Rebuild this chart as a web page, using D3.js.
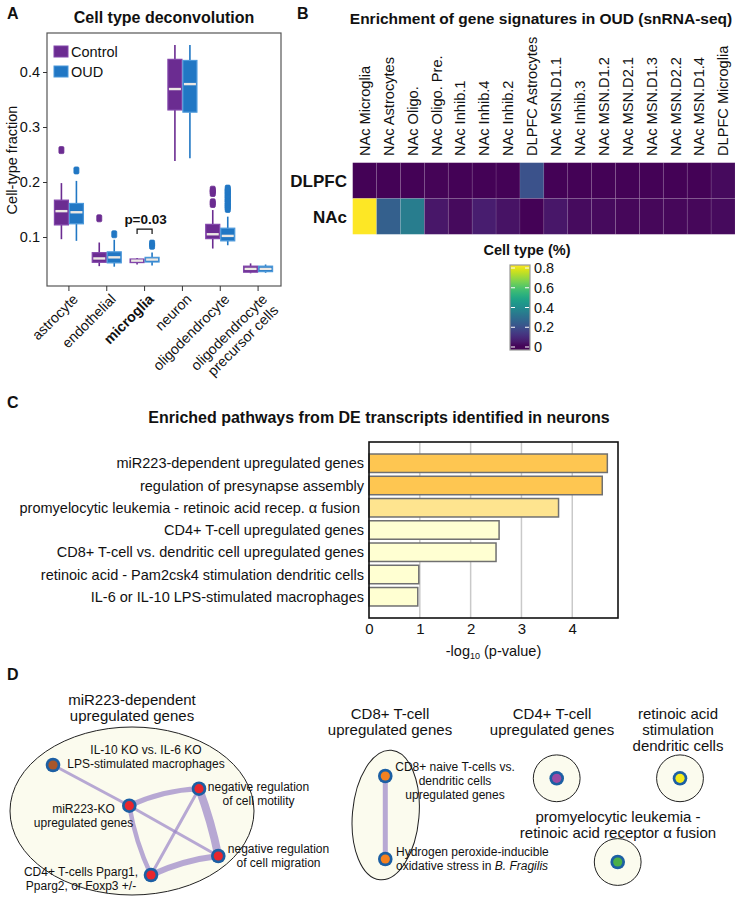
<!DOCTYPE html>
<html><head><meta charset="utf-8">
<script src="https://cdn.jsdelivr.net/npm/d3@7"></script>
<style>body{margin:0;background:#fff} svg{display:block} text{font-family:"Liberation Sans",Arial,Helvetica,sans-serif;fill:#111}</style>
</head><body><svg id="c" width="738" height="900"></svg>
<script>
// ---------------- Panel A data ----------------
const cellTypes = ["astrocyte","endothelial","microglia","neuron","oligodendrocyte","oligodendrocyte precursor cells"];
const groups = ["Control","OUD"];
const yTicksA = [0.1,0.2,0.3,0.4];
// box statistics: lower whisker, q1, median, q3, upper whisker
const ctrlLo  = [0.096,0.047,0.050,0.238,0.079,0.034];
const ctrlQ1  = [0.122,0.054,0.0535,0.331,0.097,0.036];
const ctrlMed = [0.147,0.061,0.057,0.369,0.105,0.042];
const ctrlQ3  = [0.167,0.0715,0.060,0.423,0.123,0.047];
const ctrlHi  = [0.198,0.090,0.062,0.449,0.149,0.052];
const ctrlOut = [[0.258],[0.134],[],[],[0.160,0.163,0.180,0.183,0.186],[]];
const oudLo  = [0.093,0.046,0.048,0.243,0.085,0.035];
const oudQ1  = [0.124,0.053,0.0545,0.327,0.093,0.037];
const oudMed = [0.145,0.063,0.059,0.378,0.102,0.042];
const oudQ3  = [0.161,0.073,0.063,0.421,0.116,0.047];
const oudHi  = [0.202,0.095,0.072,0.449,0.137,0.050];
const oudOut = [[0.221],[0.105],[0.084,0.088],[],[0.151,0.154,0.157,0.161,0.164,0.168,0.171,0.175,0.178,0.182,0.185,0.188],[]];
const pLabel = "p=0.03";

// ---------------- Panel B data ----------------
const hmColumns = ["NAc Microglia","NAc Astrocytes","NAc Oligo.","NAc Oligo. Pre.","NAc Inhib.1","NAc Inhib.4","NAc Inhib.2","DLPFC Astrocytes","NAc MSN.D1.1","NAc Inhib.3","NAc MSN.D1.2","NAc MSN.D2.1","NAc MSN.D1.3","NAc MSN.D2.2","NAc MSN.D1.4","DLPFC Microglia"];
const hmRows = ["DLPFC","NAc"];
const hmDLPFC = [0.005,0.005,0.005,0.008,0.005,0.005,0.005,0.21,0.006,0.006,0.006,0.005,0.005,0.005,0.006,0.02];
const hmNAc   = [0.83,0.25,0.35,0.05,0.02,0.065,0.04,0.005,0.05,0.025,0.02,0.015,0.015,0.015,0.015,0.02];
const cbTicks = [0,0.2,0.4,0.6,0.8];

// ---------------- Panel C data ----------------
const pathways = ["miR223-dependent upregulated genes","regulation of presynapse assembly","promyelocytic leukemia - retinoic acid recep. \u03b1 fusion ","CD4+ T-cell upregulated genes","CD8+ T-cell vs. dendritic cell upregulated genes","retinoic acid - Pam2csk4 stimulation dendritic cells","IL-6 or IL-10 LPS-stimulated macrophages"];
const negLog10P = [4.69,4.59,3.73,2.56,2.50,0.98,0.96];
const xTicksC = [0,1,2,3,4];

// ---------------- Panel D data ----------------
const clusterTitles = [["miR223-dependent","upregulated genes"],["CD8+ T-cell","upregulated genes"],["CD4+ T-cell","upregulated genes"],["retinoic acid","stimulation","dendritic cells"],["promyelocytic leukemia -","retinoic acid receptor \u03b1 fusion"]];
// layout units (panel-local)
const clusterTitleX = [132,390,552,678,618];
const clusterTitleY = [65,79,79,79,182];
const clusterCX = [132,385.7,556.7,680,617.7];
const clusterCY = [171,175,138.3,138.3,222];
const clusterRX = [122,33.3,23.4,23.4,23.4];
const clusterRY = [84,65,23.4,23.4,23.4];
const clusterTilt = [0,5,0,0,0];
const nodeIds = ["il10","mir","motility","migration","cd4t","cd8a","cd8b","cd4","ra","pml"];
const nodeColors = ["#a8562b","#e8262d","#e8262d","#e8262d","#e8262d","#f6811f","#f6811f","#9b4aa3","#f3ea1c","#4caf48"];
const nodeX = [53,129.3,199,218.3,151,385.3,385.3,556.7,680,617.7];
const nodeY = [125,165.7,148.7,216,235,136,219,138.3,138.3,222];
const nodeLabels = [["IL-10 KO vs. IL-6 KO","LPS-stimulated macrophages"],["miR223-KO","upregulated genes"],["negative regulation","of cell motility"],["negative regulation","of cell migration"],["CD4+ T-cells Pparg1,","Pparg2, or Foxp3 +/-"],["CD8+ naive T-cells vs.","dendritic cells","upregulated genes"],["Hydrogen peroxide-inducible","oxidative stress in |B. Fragilis"],[],[],[]];
const labelX = [146,83.5,258.5,278.5,81,455,396,0,0,0];
const labelY = [114,173,151,213,236,131,216,0,0,0];
const labelAnchor = ["middle","middle","middle","middle","middle","middle","start","middle","middle","middle"];
const edgeSource = ["il10","mir","mir","mir","motility","motility","migration","cd8a"];
const edgeTarget = ["mir","motility","migration","cd4t","migration","cd4t","cd4t","cd8b"];
const edgeWidth  = [3,5,3,4.5,8,3,6,5];
const edgeBend   = [0,-0.1,0,0.07,-0.04,0,0.08,0];

// =====================================================
const svg = d3.select("#c");
const F = "Liberation Sans, Arial, sans-serif";

function label(x,y,t,opt={}){
  return svg.append("text").attr("x",x).attr("y",y).text(t)
    .attr("font-size",opt.size||14).attr("font-weight",opt.bold?"bold":"normal")
    .attr("text-anchor",opt.anchor||"start");
}

// ---------------- Panel A ----------------
label(7,19,"A",{size:16,bold:true});
label(164,23,"Cell type deconvolution",{size:16,bold:true,anchor:"middle"});
const xA = d3.scaleBand().domain(cellTypes).range([50,277]);
const yA = d3.scaleLinear().domain([0.1,0.4]).range([237,72]);
const gA = svg.append("g");
gA.append("rect").attr("x",47).attr("y",33).attr("width",234).attr("height",253)
  .attr("fill","none").attr("stroke","#555").attr("stroke-width",1.2);
const axL = gA.append("g").attr("transform","translate(47,0)")
  .call(d3.axisLeft(yA).tickValues(yTicksA).tickFormat(d3.format(".1f")).tickSize(4).tickPadding(3));
axL.select(".domain").remove();
axL.selectAll("text").attr("font-size",14.5).attr("font-family",F).attr("fill","#222");
axL.selectAll("line").attr("stroke","#333");
const axB = gA.append("g").attr("transform","translate(0,286)")
  .call(d3.axisBottom(xA).tickSize(5).tickFormat(""));
axB.select(".domain").remove();
axB.selectAll("line").attr("stroke","#333");
gA.append("text").attr("transform","translate(17,160) rotate(-90)").attr("text-anchor","middle")
  .attr("font-size",14.5).text("Cell-type fraction");

const boxCols = {Control:{fill:"#6b2c91",stroke:"#8246ab",wh:"#6b2c91"},OUD:{fill:"#2177c4",stroke:"#4b98da",wh:"#2177c4"}};
const groupStats = {
  Control:{lo:ctrlLo,q1:ctrlQ1,med:ctrlMed,q3:ctrlQ3,hi:ctrlHi,out:ctrlOut},
  OUD:{lo:oudLo,q1:oudQ1,med:oudMed,q3:oudQ3,hi:oudHi,out:oudOut}
};
const bw = 15;
cellTypes.forEach((c,i)=>{
  groups.forEach((g,gi)=>{
    const s = groupStats[g], col = boxCols[g];
    const cx = xA(c)+xA.bandwidth()/2 + (gi===0?-bw/2:bw/2);
    gA.append("line").attr("x1",cx).attr("x2",cx).attr("y1",yA(s.hi[i])).attr("y2",yA(s.q3[i]))
      .attr("stroke",col.wh).attr("stroke-width",1.6);
    gA.append("line").attr("x1",cx).attr("x2",cx).attr("y1",yA(s.q1[i])).attr("y2",yA(s.lo[i]))
      .attr("stroke",col.wh).attr("stroke-width",1.6);
    gA.append("rect").attr("x",cx-bw/2+0.5).attr("width",bw-1)
      .attr("y",yA(s.q3[i])).attr("height",Math.max(1,yA(s.q1[i])-yA(s.q3[i])))
      .attr("fill",col.fill).attr("stroke",col.stroke).attr("stroke-width",1.2);
    gA.append("line").attr("x1",cx-bw/2+1.5).attr("x2",cx+bw/2-1.5).attr("y1",yA(s.med[i])).attr("y2",yA(s.med[i]))
      .attr("stroke","#ece8e4").attr("stroke-width",2.4);
    s.out[i].forEach(v=>{
      gA.append("rect").attr("x",cx-2.5).attr("y",yA(v)-3.5).attr("width",5).attr("height",7).attr("rx",1.2)
        .attr("fill",col.fill).attr("stroke",col.fill).attr("stroke-width",0.8);
    });
  });
});
// legend
groups.forEach((g,gi)=>{
  const col = boxCols[g];
  gA.append("rect").attr("x",54).attr("y",46+gi*20).attr("width",14).attr("height",11)
    .attr("fill",col.fill).attr("stroke",col.stroke);
  gA.append("text").attr("x",71).attr("y",57+gi*20).attr("font-size",14.5).text(g);
});
// p-value bracket (microglia)
{
  const mc = xA("microglia")+xA.bandwidth()/2;
  const top = yA(0.1145), bot = yA(0.1055);
  gA.append("path").attr("d",`M${mc-bw/2},${bot}V${top}H${mc+bw/2}V${bot}`)
    .attr("fill","none").attr("stroke","#111").attr("stroke-width",1.2);
  gA.append("text").attr("x",mc+1).attr("y",top-5).attr("text-anchor","middle")
    .attr("font-size",13.5).attr("font-weight","bold").text(pLabel);
}
// x labels
cellTypes.forEach(c=>{
  const cx = xA(c)+xA.bandwidth()/2;
  const t = gA.append("text").attr("transform",`translate(${cx+3},${293}) rotate(-45)`)
    .attr("text-anchor","end").attr("font-size",14.3)
    .attr("font-weight",c==="microglia"?"bold":"normal");
  if(c==="oligodendrocyte precursor cells"){
    t.append("tspan").attr("x",0).attr("dy","0.7em").text("oligodendrocyte");
    t.append("tspan").attr("x",0).attr("dy","1.1em").text("precursor cells");
  } else {
    t.append("tspan").attr("x",0).attr("dy","0.7em").text(c);
  }
});

// ---------------- Panel B ----------------
label(297,19,"B",{size:16,bold:true});
label(541,24,"Enrichment of gene signatures in OUD (snRNA-seq)",{size:15.5,bold:true,anchor:"middle"});
const xB = d3.scaleBand().domain(hmColumns).range([352.7,735]);
const yB = d3.scaleBand().domain(hmRows).range([162.7,234.3]);
const cB = d3.scaleSequential(d3.interpolateViridis).domain([0,0.83]).clamp(true);
const hmVals = {DLPFC:hmDLPFC, NAc:hmNAc};
const gB = svg.append("g");
hmRows.forEach(r=>{
  hmColumns.forEach((c,ci)=>{
    gB.append("rect").attr("x",xB(c)).attr("y",yB(r)).attr("width",xB.bandwidth()).attr("height",yB.bandwidth())
      .attr("fill",cB(hmVals[r][ci])).attr("stroke","rgba(255,255,255,0.10)").attr("stroke-width",0.8);
  });
  gB.append("text").attr("x",347).attr("y",yB(r)+yB.bandwidth()/2).attr("dy","0.36em")
    .attr("text-anchor","end").attr("font-size",17).attr("font-weight","bold").text(r);
});
hmColumns.forEach(c=>{
  gB.append("text").attr("transform",`translate(${xB(c)+xB.bandwidth()/2},156) rotate(-90)`)
    .attr("dy","0.36em").attr("font-size",14.6).text(c);
});
// colorbar
{
  const cbY = d3.scaleLinear().domain([0,0.8]).range([347,268]);
  const y0 = 350, y1 = 265;
  const defs = svg.append("defs");
  const lg = defs.append("linearGradient").attr("id","vir").attr("x1",0).attr("x2",0).attr("y1",1).attr("y2",0);
  d3.range(0,1.0001,0.05).forEach(t=>{
    const v = cbY.invert(y0 + (y1-y0)*t);
    lg.append("stop").attr("offset",t).attr("stop-color",cB(v));
  });
  gB.append("rect").attr("x",510).attr("y",y1).attr("width",20).attr("height",y0-y1)
    .attr("fill","url(#vir)").attr("stroke","#999").attr("stroke-width",1.2);
  cbTicks.forEach(v=>{
    gB.append("line").attr("x1",511).attr("x2",515).attr("y1",cbY(v)).attr("y2",cbY(v)).attr("stroke","#fff").attr("stroke-width",1);
    gB.append("line").attr("x1",525).attr("x2",529).attr("y1",cbY(v)).attr("y2",cbY(v)).attr("stroke","#fff").attr("stroke-width",1);
    gB.append("text").attr("x",534).attr("y",cbY(v)).attr("dy","0.36em").attr("font-size",14.5).text(v===0?"0":d3.format(".1f")(v));
  });
  gB.append("text").attr("x",527).attr("y",255).attr("text-anchor","middle").attr("font-size",14.5)
    .attr("font-weight","bold").text("Cell type (%)");
}

// ---------------- Panel C ----------------
label(7,408,"C",{size:16,bold:true});
label(379,423,"Enriched pathways from DE transcripts identified in neurons",{size:16,bold:true,anchor:"middle"});
const xC = d3.scaleLinear().domain([0,4.9]).range([369,618]);
const yC = d3.scaleBand().domain(pathways).range([442,618]).paddingInner(0.17).paddingOuter(0.54);
const colC = d3.scaleThreshold().domain([3,4]).range(["#ffffd2","#fee48f","#fec651"]);
const gC = svg.append("g");
xTicksC.filter(v=>v>0).forEach(v=>{
  gC.append("line").attr("x1",xC(v)).attr("x2",xC(v)).attr("y1",442).attr("y2",618)
    .attr("stroke","#c9c9c9").attr("stroke-width",1.5);
});
pathways.forEach((p,i)=>{
  gC.append("rect").attr("x",xC(0)).attr("y",yC(p)).attr("width",xC(negLog10P[i])-xC(0)).attr("height",yC.bandwidth())
    .attr("fill",colC(negLog10P[i])).attr("stroke","#707070").attr("stroke-width",1.5);
  gC.append("text").attr("x",364).attr("y",yC(p)+yC.bandwidth()/2).attr("dy","0.36em")
    .attr("text-anchor","end").attr("font-size",14.5).attr("xml:space","preserve").text(p);
});
gC.append("rect").attr("x",369).attr("y",442).attr("width",249).attr("height",176)
  .attr("fill","none").attr("stroke","#111").attr("stroke-width",1.6);
const axC = gC.append("g").attr("transform","translate(0,618)")
  .call(d3.axisBottom(xC).tickValues(xTicksC).tickFormat(d3.format("d")).tickSize(0).tickPadding(5));
axC.select(".domain").remove();
axC.selectAll("text").attr("font-size",15).attr("font-family",F).attr("fill","#111");
{
  const t = gC.append("text").attr("x",xC(2.45)).attr("y",656).attr("text-anchor","middle").attr("font-size",14.5);
  t.append("tspan").text("-log");
  t.append("tspan").attr("font-size",9).attr("dy",3).text("10");
  t.append("tspan").attr("dy",-3).text(" (p-value)");
}

// ---------------- Panel D ----------------
label(7,680,"D",{size:16,bold:true});
const dX = d3.scaleLinear().domain([0,738]).range([0,738]);
const dY = d3.scaleLinear().domain([0,260]).range([640,900]);
const gD = svg.append("g");
clusterTitles.forEach((lines,i)=>{
  gD.append("ellipse").attr("cx",dX(clusterCX[i])).attr("cy",dY(clusterCY[i]))
    .attr("rx",clusterRX[i]).attr("ry",clusterRY[i])
    .attr("transform",`rotate(${clusterTilt[i]},${dX(clusterCX[i])},${dY(clusterCY[i])})`)
    .attr("fill","#fbfbee").attr("stroke","#222").attr("stroke-width",1);
  lines.forEach((l,k)=>{
    gD.append("text").attr("x",dX(clusterTitleX[i])).attr("y",dY(clusterTitleY[i])+k*16)
      .attr("text-anchor","middle").attr("font-size",15).text(l);
  });
});
const nodeIdx = Object.fromEntries(nodeIds.map((d,i)=>[d,i]));
edgeSource.forEach((s,e)=>{
  const a = nodeIdx[s], b = nodeIdx[edgeTarget[e]];
  const x1 = dX(nodeX[a]), y1 = dY(nodeY[a]), x2 = dX(nodeX[b]), y2 = dY(nodeY[b]);
  const dx = x2-x1, dy = y2-y1;
  const mx = (x1+x2)/2 + (-dy)*edgeBend[e], my = (y1+y2)/2 + dx*edgeBend[e];
  gD.append("path").attr("d",`M${x1},${y1}Q${mx},${my} ${x2},${y2}`)
    .attr("fill","none").attr("stroke","#9a84c8").attr("stroke-opacity",0.7)
    .attr("stroke-width",edgeWidth[e]).attr("stroke-linecap","round");
});
nodeIds.forEach((n,i)=>{
  gD.append("circle").attr("cx",dX(nodeX[i])).attr("cy",dY(nodeY[i])).attr("r",7.3).attr("fill","#1c5fa3");
  gD.append("circle").attr("cx",dX(nodeX[i])).attr("cy",dY(nodeY[i])).attr("r",4.6).attr("fill",nodeColors[i]);
});
nodeIds.forEach((n,i)=>{
  nodeLabels[i].forEach((l,k)=>{
    const t = gD.append("text").attr("x",dX(labelX[i])).attr("y",dY(labelY[i])+k*14)
      .attr("text-anchor",labelAnchor[i]).attr("font-size",12);
    if(l.includes("|")){
      const [a,b] = l.split("|");
      t.append("tspan").attr("xml:space","preserve").text(a);
      t.append("tspan").attr("font-style","italic").text(b);
    } else t.text(l);
  });
});
</script></body></html>
